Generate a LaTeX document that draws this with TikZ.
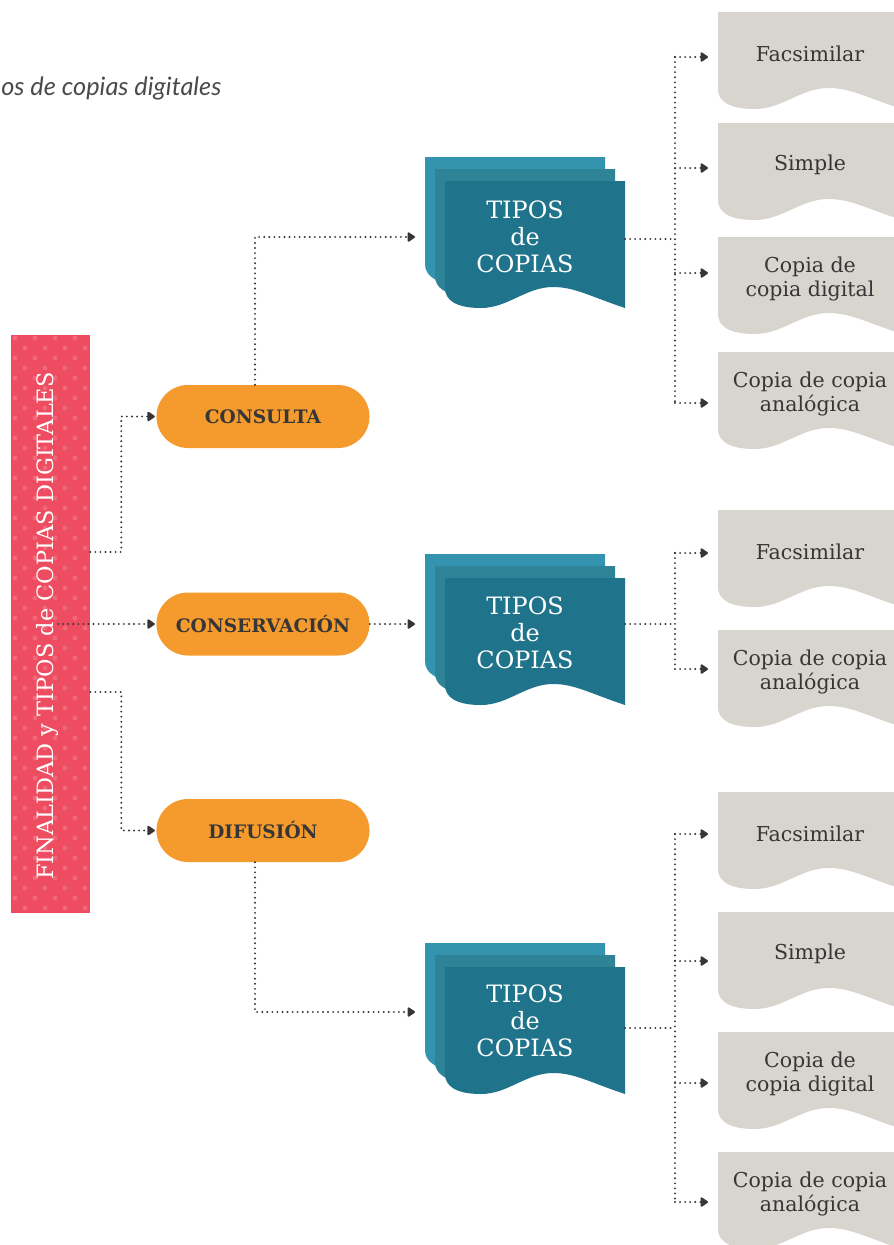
\documentclass[tikz,border=0pt]{standalone}
\usepackage{fontspec}
\setmainfont{DejaVu Serif}
\newfontfamily\titlefont{Lato}
\usetikzlibrary{positioning,arrows.meta,shapes.misc,calc}

\definecolor{barred}{HTML}{EE4C61}
\definecolor{bardot}{HTML}{F1687A}
\definecolor{pillorange}{HTML}{F59B2D}
\definecolor{tealA}{HTML}{3494AF}
\definecolor{tealB}{HTML}{2E8397}
\definecolor{tealC}{HTML}{1F738B}
\definecolor{leafgray}{HTML}{D8D4CE}
\definecolor{ink}{HTML}{363636}

% sheet with wavy bottom: fill, x0, y0, w, h
\newcommand{\wavesheet}[5]{%
\fill[#1] (#2,#3) -- ({#2+#4},#3) -- ({#2+#4},{#3+#5})
  .. controls ({#2+0.8*#4},{#3+#5-12}) and ({#2+0.72*#4},{#3+#5-21}) .. ({#2+0.6*#4},{#3+#5-21})
  .. controls ({#2+0.45*#4},{#3+#5-21}) and ({#2+0.35*#4},{#3+#5}) .. ({#2+0.2*#4},{#3+#5})
  .. controls ({#2+0.06*#4},{#3+#5}) and (#2,{#3+#5-8}) .. (#2,{#3+#5-20}) -- cycle;}
% three teal sheets, front top y
\newcommand{\tealstack}[1]{%
\wavesheet{tealA}{425}{#1-24}{180}{127}
\wavesheet{tealB}{435}{#1-12}{180}{127}
\wavesheet{tealC}{445}{#1}{180}{127}}

\tikzset{
  link/.style={ink, line width=1.5pt, dash pattern=on 0pt off 3.6pt, line cap=round,
    -{Triangle[length=6pt,width=7.5pt,round=false]}},
  dotline/.style={ink, line width=1.5pt, dash pattern=on 0pt off 3.6pt, line cap=round},
  pill/.style={rounded rectangle, fill=pillorange, minimum width=5.325cm, minimum height=1.575cm,
    inner sep=0pt, text=ink, font=\bfseries\fontsize{13.2}{16}\selectfont},
  sheettext/.style={text=white, align=center, inner sep=0pt, font=\fontsize{17}{19.2}\selectfont},
  leaftext/.style={text=ink, align=center, inner sep=0pt, minimum width=4.6cm,
    font=\fontsize{14.6}{16.6}\selectfont}
}

\begin{document}
\begin{tikzpicture}[x=0.025cm,y=-0.025cm]
\useasboundingbox (0,0) rectangle (894,1245);
\clip (0,0) rectangle (894,1245);

\node[anchor=west, inner sep=0pt, text=ink!90, font=\titlefont\itshape\fontsize{18}{20}\selectfont]
  (title) at (1,88) {os de copias digitales};

% bar
\fill[barred] (11,335) rectangle (90,913);
\begin{scope}
\clip (11,335) rectangle (90,913);
\foreach \r in {0,...,58} {
\foreach \c in {0,...,4} {
\fill[bardot] ({15+20*\c+10*mod(\r,2)},{338+10*\r}) circle[radius=2.4];
}}
\end{scope}
\node[minimum width=1.975cm, minimum height=14.45cm, inner sep=0pt] (bar) at (50.5,624) {};
\node[rotate=90, text=white, inner sep=0pt, font=\fontsize{16}{18}\selectfont]
  (bartext) at (47,626) {FINALIDAD y TIPOS de COPIAS DIGITALES};

% pills
\node[pill] (consulta) at (263,416.5) {CONSULTA};
\node[pill] (conserv) at (263,624) {CONSERVACIÓN};
\node[pill] (difusion) at (263,830.5) {DIFUSIÓN};

\draw[link, shorten >=1pt] ([yshift=1.8cm]bar.east) -- ++(31,0) |- (consulta.west);
\draw[link, shorten >=1pt] ([xshift=0.19cm]bar.center) -- (conserv.west);
\draw[link, shorten >=1pt] ([yshift=-1.7cm]bar.east) -- ++(31,0) |- (difusion.west);

% stacks
\tealstack{181}
\tealstack{578}
\tealstack{967}
\node[sheettext] (tipos1) at (525,237) {TIPOS\\de\\COPIAS};
\node[sheettext] (tipos2) at (525,633) {TIPOS\\de\\COPIAS};
\node[sheettext] (tipos3) at (525,1021) {TIPOS\\de\\COPIAS};

\coordinate (in1) at (415,237);
\coordinate (in2) at (415,624);
\coordinate (in3) at (415,1012);
\draw[link] ([xshift=-0.2cm]consulta.north) |- (in1);
\draw[link] (conserv.east) -- (in2);
\draw[link] ([xshift=-0.2cm]difusion.south) |- (in3);

\coordinate (out1) at (625,239);
\coordinate (out2) at (625,624);
\coordinate (out3) at (625,1028);
\coordinate (j1) at (675,239);
\coordinate (j2) at (675,624);
\coordinate (j3) at (675,1028);
\draw[dotline] (out1) -- (j1);
\draw[dotline] (out2) -- (j2);
\draw[dotline] (out3) -- (j3);

% leaves
\foreach \top/\ay/\txt [count=\k] in {12/57/Facsimilar, 123/168/Simple,
  237/273/{Copia de\\copia digital}, 352/403/{Copia de copia\\analógica}} {
\wavesheet{leafgray}{718}{\top}{184}{97}
\node[leaftext] (a\k) at (810,{\top+42}) {\txt};
\coordinate (a\k-in) at (708,\ay);
\draw[link] (j1 |- a\k-in) -- (a\k-in);
}
\draw[dotline] (j1 |- a1-in) -- (j1 |- a4-in);

\foreach \top/\ay/\txt [count=\k] in {510/553/Facsimilar, 630/669/{Copia de copia\\analógica}} {
\wavesheet{leafgray}{718}{\top}{184}{97}
\node[leaftext] (b\k) at (810,{\top+42}) {\txt};
\coordinate (b\k-in) at (708,\ay);
\draw[link] (j2 |- b\k-in) -- (b\k-in);
}
\draw[dotline] (j2 |- b1-in) -- (j2 |- b2-in);

\foreach \top/\ay/\txt [count=\k] in {792/834/Facsimilar, 912/961/Simple,
  1032/1083/{Copia de\\copia digital}, 1152/1202/{Copia de copia\\analógica}} {
\wavesheet{leafgray}{718}{\top}{184}{97}
\node[leaftext] (c\k) at (810,{\top+42}) {\txt};
\coordinate (c\k-in) at (708,\ay);
\draw[link] (j3 |- c\k-in) -- (c\k-in);
}
\draw[dotline] (j3 |- c1-in) -- (j3 |- c4-in);
\end{tikzpicture}
\end{document}
